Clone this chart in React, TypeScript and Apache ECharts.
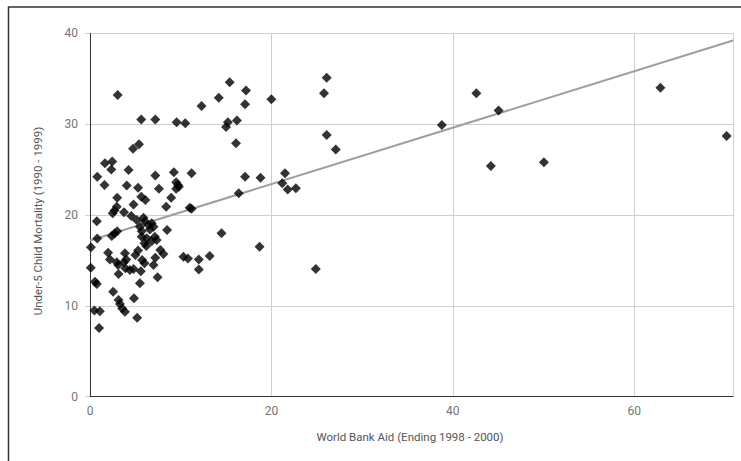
import React, { useEffect, useRef } from "react";
import * as echarts from "echarts";

// World Bank Aid (x) vs Under-5 Child Mortality (y)
const aidValues: number[] = [
  0.1, 0.08, 0.55, 0.75, 0.48, 1.08, 1.0, 0.75, 0.8, 0.8,
  1.65, 2.45, 2.35, 1.6, 2.0, 2.2, 2.55,
  2.4, 2.7, 3.0, 2.5, 2.7, 2.95, 3.0, 3.05,
  2.95, 3.1, 3.15, 3.15, 3.3, 3.55, 3.85,
  3.75, 4.05, 4.25, 3.85, 4.0, 3.75, 3.9, 4.4, 4.8,
  4.55, 4.8, 4.75, 4.85, 5.0, 5.2, 5.15, 5.3, 5.4, 5.3,
  5.5, 5.65, 5.6, 5.75, 6.0, 5.7, 5.7, 5.5, 5.9, 6.05,
  6.1, 6.0, 6.2, 6.25, 6.45, 6.6, 6.8, 7.0, 7.15, 7.35,
  7.0, 7.2, 7.2, 7.2, 5.65, 7.45, 7.6, 7.75, 8.1, 8.5, 8.4,
  8.95, 9.25, 9.5, 9.7, 9.8, 9.5, 9.55, 10.5, 10.3, 10.8, 11.0, 11.2, 11.2, 6.8,
  12.0, 12.0, 12.3, 13.2, 14.2, 14.5, 15.0, 15.2, 15.4, 16.2, 16.1, 16.4, 17.1, 17.1,
  17.2, 18.7, 18.8, 20.0, 21.2, 21.5, 21.8, 22.7, 24.9, 25.8, 26.1, 26.1, 27.1,
  38.8, 42.6, 44.2, 45.05, 50.05, 62.9, 70.2,
];
const mortalityValues: number[] = [
  16.45, 14.2, 12.65, 12.4, 9.5, 9.4, 7.55, 19.3, 17.4, 24.2,
  25.7, 25.9, 25.0, 23.3, 15.85, 15.1, 11.55,
  17.7, 17.95, 18.2, 20.2, 20.5, 20.9, 21.9, 33.2,
  14.8, 14.5, 13.5, 10.65, 10.2, 9.7, 9.35,
  20.3, 23.25, 24.95, 15.8, 15.1, 14.8, 14.15, 13.95, 14.05,
  19.9, 21.15, 27.3, 10.85, 15.6, 8.7, 19.45, 23.0, 27.8, 16.1,
  12.5, 22.0, 13.8, 15.05, 14.7, 17.6, 18.2, 18.7, 19.7, 19.3,
  21.65, 16.9, 16.6, 17.45, 18.9, 18.4, 17.1, 18.7, 17.6, 17.25,
  14.5, 15.3, 24.35, 30.5, 30.5, 13.15, 22.9, 16.15, 15.7, 18.35, 20.9,
  21.9, 24.7, 23.6, 23.3, 23.1, 22.9, 30.2, 30.1, 15.4, 15.2, 20.8, 20.7, 24.6, 19.1,
  15.1, 14.0, 32.0, 15.5, 32.9, 18.0, 29.7, 30.2, 34.6, 30.4, 27.9, 22.4, 24.2, 32.2,
  33.7, 16.5, 24.1, 32.75, 23.5, 24.6, 22.8, 22.95, 14.05, 33.4, 35.1, 28.8, 27.2,
  29.9, 33.4, 25.4, 31.5, 25.8, 34.0, 28.7,
];
const trendLine: number[][] = [
  [0, 17.2],
  [70.9, 39.2],
];
const xTicks = [0, 20, 40, 60];
const yTicks = [0, 10, 20, 30, 40];

const xAxisTitle = "World Bank Aid (Ending 1998 - 2000)";
const yAxisTitle = "Under-5 Child Mortality (1990 - 1999)";

export default function App() {
  const ref = useRef<HTMLDivElement>(null);

  useEffect(() => {
    if (!ref.current) return;
    const chart = echarts.init(ref.current, undefined, { renderer: "svg" });
    const points = aidValues.map((x, i) => [x, mortalityValues[i]]);
    const font = "Roboto, 'Noto Sans', sans-serif";
    chart.setOption({
      animation: false,
      backgroundColor: "#ffffff",
      grid: { left: 90, top: 33.3, width: 643, height: 363.4, containLabel: false },
      xAxis: {
        type: "value",
        min: xTicks[0],
        max: 70.9,
        interval: 20,
        axisLine: { show: true, onZero: false, lineStyle: { color: "#333333", width: 1 } },
        axisTick: { show: false },
        axisLabel: {
          showMaxLabel: false,
          color: "#757575",
          fontSize: 12,
          fontFamily: font,
          margin: 8,
        },
        splitLine: { show: true, lineStyle: { color: "#cfcfcf", width: 1 } },
      },
      yAxis: {
        type: "value",
        min: yTicks[0],
        max: yTicks[yTicks.length - 1],
        interval: 10,
        axisLine: { show: true, onZero: false, lineStyle: { color: "#333333", width: 1 } },
        axisTick: { show: true, length: 5, lineStyle: { color: "#cfcfcf" } },
        axisLabel: {
          color: "#757575",
          fontSize: 12,
          fontFamily: font,
          margin: 12,
        },
        splitLine: { show: true, lineStyle: { color: "#cfcfcf", width: 1 } },
      },
      graphic: [
        {
          type: "rect",
          shape: { x: 8.5, y: 7, width: 740, height: 460 },
          style: { fill: "none", stroke: "#333333", lineWidth: 1.5 },
          silent: true,
        },
        {
          type: "text",
          x: 410,
          y: 437,
          style: {
            text: xAxisTitle,
            fill: "#555555",
            fontSize: 11.5,
            fontFamily: font,
            align: "center",
            verticalAlign: "middle",
          },
        },
        {
          type: "text",
          x: 38,
          y: 221,
          rotation: Math.PI / 2,
          style: {
            text: yAxisTitle,
            fill: "#555555",
            fontSize: 11.5,
            fontFamily: font,
            align: "center",
            verticalAlign: "middle",
          },
        },
      ],
      series: [
        {
          type: "line",
          data: trendLine,
          showSymbol: false,
          silent: true,
          lineStyle: { color: "#9e9e9e", width: 2 },
          z: 1,
        },
        {
          type: "scatter",
          data: points,
          symbol: "diamond",
          symbolSize: 10,
          itemStyle: { color: "#000000" },
          z: 2,
        },
      ],
    });
    return () => chart.dispose();
  }, []);

  return (
    <div
      style={{ position: "fixed", left: 0, top: 0, width: 741, height: 461, background: "#fff" }}
    >
      <div ref={ref} style={{ width: 741, height: 461 }} />
    </div>
  );
}
